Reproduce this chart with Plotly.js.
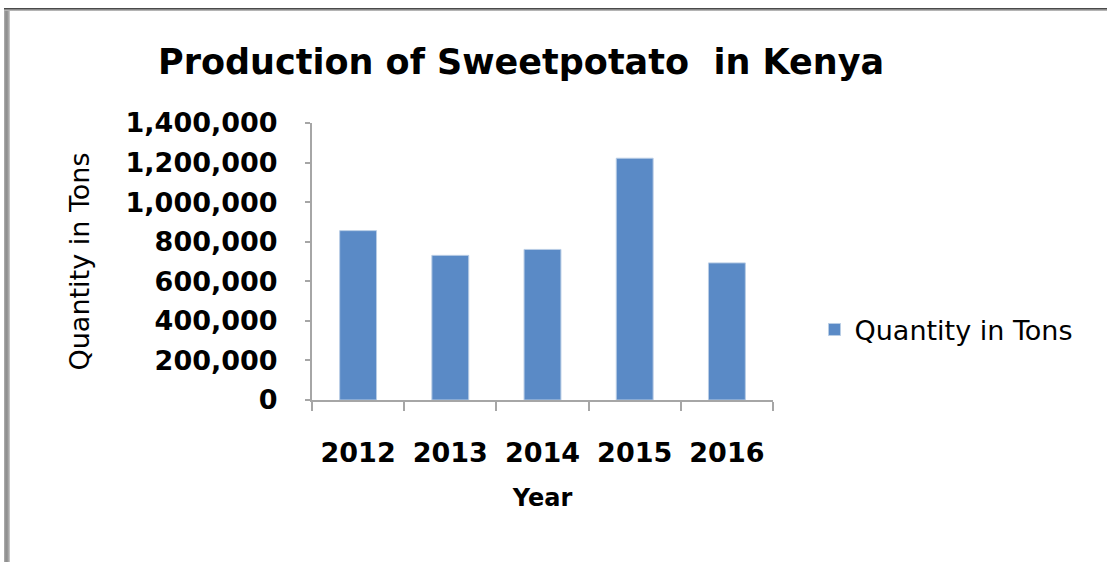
<!DOCTYPE html>
<html>
<head>
<meta charset="utf-8">
<script src="https://cdn.plot.ly/plotly-3.0.1.min.js"></script>
<style>
  html, body { margin: 0; padding: 0; background: #fff; }
  #wrap { position: relative; width: 1107px; height: 562px; overflow: hidden; }
  #chart { position: absolute; left: 0; top: 0; width: 1107px; height: 562px; }
  #frameLeft { position: absolute; left: 4px; top: 8px; width: 6px; height: 554px;
    background: linear-gradient(to right, #b0b0b0, #8c8c8c, #9a9a9a, #d0d0d0); }
  #frameTop { position: absolute; left: 4px; top: 8px; width: 1103px; height: 3px;
    background: linear-gradient(to bottom, #2a2a2a, #8a8a8a, #c8c8c8); }
</style>
</head>
<body>
<div id="wrap">
  <div id="chart"></div>
  <div id="frameLeft"></div>
  <div id="frameTop"></div>
</div>
<script>
// Data
const years = ['2012', '2013', '2014', '2015', '2016'];
const quantityTons = [856000, 731000, 761000, 1222000, 693000];
const seriesName = 'Quantity in Tons';
const chartTitle = 'Production of Sweetpotato \u00a0in Kenya';
const xTitle = 'Year';
const yTitle = 'Quantity in Tons';

const boldFont = 'DejaVu Sans';
const axisColor = '#a6a6a6';

const trace = {
  type: 'bar',
  x: years,
  y: quantityTons,
  name: seriesName,
  marker: { color: '#5a8ac6', line: { color: '#b9cde5', width: 1 } },
  hoverinfo: 'x+y'
};

const layout = {
  width: 1107,
  height: 562,
  margin: { l: 312, r: 334, t: 123, b: 162, pad: 0 },
  paper_bgcolor: '#ffffff',
  plot_bgcolor: '#ffffff',
  bargap: 0.6,
  showlegend: true,
  title: {
    text: '<b>' + chartTitle + '</b>',
    font: { family: boldFont, size: 35, color: '#000000' },
    xref: 'container', x: 0.4707,
    yref: 'container', y: 0.891, yanchor: 'middle', xanchor: 'center'
  },
  xaxis: {
    type: 'category',
    showline: true, linecolor: axisColor, linewidth: 2,
    ticks: 'outside', tickson: 'boundaries', ticklen: 9, tickwidth: 2, tickcolor: axisColor,
    tickfont: { family: boldFont, size: 27, color: '#000000', weight: 'bold' },
    ticklabelstandoff: 28,
    showgrid: false, zeroline: false,
    title: { text: '<b>' + xTitle + '</b>', font: { family: boldFont, size: 24, color: '#000000' }, standoff: 22 },
    automargin: false,
    fixedrange: true
  },
  yaxis: {
    range: [0, 1400000], dtick: 200000, tick0: 0,
    tickformat: ',d',
    showline: true, linecolor: axisColor, linewidth: 2,
    ticks: 'outside', ticklen: 5, tickwidth: 2, tickcolor: axisColor,
    tickfont: { family: boldFont, size: 27, color: '#000000', weight: 'bold' },
    ticklabelstandoff: 22,
    showgrid: false, zeroline: false,
    title: { text: yTitle, font: { family: boldFont, size: 27, color: '#000000' }, standoff: 28 },
    automargin: false,
    fixedrange: true
  },
  legend: {
    x: 1.09, xanchor: 'left',
    y: 0.253, yanchor: 'middle',
    font: { family: boldFont, size: 27, color: '#000000' },
    bgcolor: 'rgba(0,0,0,0)',
    borderwidth: 0
  }
};

Plotly.newPlot('chart', [trace], layout, { displayModeBar: false, staticPlot: true });
</script>
</body>
</html>
